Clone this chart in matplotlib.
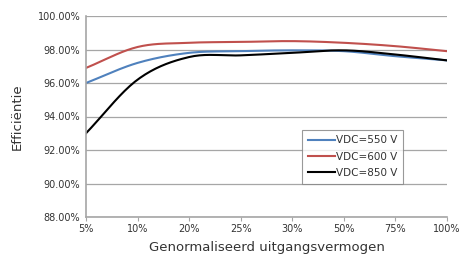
import numpy as np
import matplotlib.pyplot as plt

categories = ['5%', '10%', '20%', '25%', '30%', '50%', '75%', '100%']
vdc_550 = [96.0, 97.2, 97.8, 97.9, 97.95, 97.9, 97.6, 97.35]
vdc_600 = [96.9, 98.15, 98.4, 98.45, 98.5, 98.4, 98.2, 97.9]
vdc_850 = [93.0, 96.2, 97.55, 97.65, 97.8, 97.95, 97.7, 97.35]
y_ticks = [88, 90, 92, 94, 96, 98, 100]


def smooth(x, y, n=20):
    # Catmull-Rom style smoothing, like Excel's "smoothed line"
    x = np.asarray(x, float)
    y = np.asarray(y, float)
    px = np.concatenate([[2 * x[0] - x[1]], x, [2 * x[-1] - x[-2]]])
    py = np.concatenate([[2 * y[0] - y[1]], y, [2 * y[-1] - y[-2]]])
    xs, ys = [], []
    t = np.linspace(0, 1, n, endpoint=False)
    for i in range(1, len(px) - 2):
        for p, out in ((px, xs), (py, ys)):
            p0, p1, p2, p3 = p[i - 1], p[i], p[i + 1], p[i + 2]
            out.extend(0.5 * ((2 * p1) + (-p0 + p2) * t
                              + (2 * p0 - 5 * p1 + 4 * p2 - p3) * t ** 2
                              + (-p0 + 3 * p1 - 3 * p2 + p3) * t ** 3))
    xs.append(x[-1])
    ys.append(y[-1])
    return np.array(xs), np.array(ys)


fig = plt.figure(figsize=(4.69, 2.56), dpi=100)
ax = fig.add_axes([86 / 469, 1 - 217 / 256, (447 - 86) / 469, (217 - 16) / 256])

pos = np.arange(len(categories))
series = [(vdc_550, '#4F81BD', 'VDC=550 V'),
          (vdc_600, '#C0504D', 'VDC=600 V'),
          (vdc_850, '#000000', 'VDC=850 V')]
for vals, color, label in series:
    sx, sy = smooth(pos, vals)
    ax.plot(sx, sy, color=color, linewidth=1.5, label=label)

ax.set_xlim(0, len(categories) - 1)
ax.set_ylim(88, 100)
ax.set_xticks(pos)
ax.set_xticklabels(categories, fontsize=7)
ax.set_yticks(y_ticks)
ax.set_yticklabels([f'{v:.2f}%' for v in y_ticks], fontsize=7)
ax.grid(axis='y', color='#A6A6A6', linewidth=0.9)
ax.set_axisbelow(True)
for s in ('top', 'right'):
    ax.spines[s].set_visible(False)
for s in ('left', 'bottom'):
    ax.spines[s].set_color('#A6A6A6')
    ax.spines[s].set_linewidth(1.2)
ax.tick_params(axis='y', length=0, pad=4, colors='#333333')
ax.tick_params(axis='x', length=3, color='#A6A6A6', pad=2, colors='#333333')

ax.set_xlabel('Genormaliseerd uitgangsvermogen', fontsize=9.5, color='#333333', labelpad=5)
ax.set_ylabel('Efficiëntie', fontsize=9.5, color='#333333', labelpad=10)

leg = ax.legend(loc='lower left', bbox_to_anchor=(0.585, 0.14), fontsize=7.5,
                frameon=True, fancybox=False, edgecolor='#808080',
                handlelength=2.6, handletextpad=0.1, labelspacing=0.6,
                borderpad=0.55)
leg.get_frame().set_linewidth(0.8)
for t in leg.get_texts():
    t.set_color('#333333')

fig.savefig('out.png', dpi=100)
